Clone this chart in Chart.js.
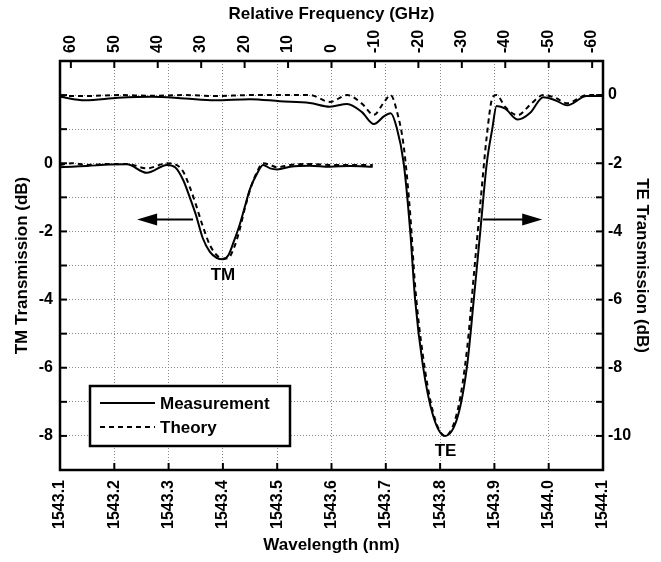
<!DOCTYPE html>
<html>
<head>
<meta charset="utf-8">
<script src="https://cdn.jsdelivr.net/npm/chart.js@4.4.0/dist/chart.umd.min.js"></script>
<style>
  html, body { margin: 0; padding: 0; background: #fff; }
</style>
</head>
<body>
<canvas id="chartTrans" width="661" height="562"></canvas>
<script>
// tick labels
var wavelengthTicks = [1543.1, 1543.2, 1543.3, 1543.4, 1543.5, 1543.6, 1543.7, 1543.8, 1543.9, 1544.0, 1544.1];
var freqTicks = [60, 50, 40, 30, 20, 10, 0, -10, -20, -30, -40, -50, -60];
var tmTickLabels = [0, -2, -4, -6, -8];
var teTickLabels = [0, -2, -4, -6, -8, -10];

// TE polarisation (right axis)
var teLambda = [1543.100, 1543.146, 1543.207, 1543.269, 1543.330, 1543.385, 1543.450, 1543.505, 1543.560, 1543.597,
                1543.629, 1543.656, 1543.678, 1543.697, 1543.709, 1543.720, 1543.733, 1543.745, 1543.754, 1543.768,
                1543.787, 1543.809, 1543.833, 1543.850, 1543.862, 1543.874, 1543.886, 1543.896,
                1543.904, 1543.920, 1543.943, 1543.966, 1543.990, 1544.012, 1544.034, 1544.070, 1544.100];
var teMeasured = [-0.05, -0.15, -0.08, -0.05, -0.1, -0.15, -0.12, -0.18, -0.23, -0.34,
                  -0.26, -0.5, -0.85, -0.62, -0.53, -0.95, -2.0, -4.0, -6.0, -7.9,
                  -9.4, -10.0, -9.4, -7.9, -6.0, -4.0, -2.0, -1.0,
                  -0.32, -0.4, -0.72, -0.52, -0.06, -0.15, -0.3, -0.03, -0.03];
var teTheory = [-0.02, -0.03, 0, -0.02, 0, -0.03, 0, 0, 0, -0.2,
                0, -0.25, -0.58, -0.2, 0, -0.45, -1.5, -3.5, -5.6, -7.6,
                -9.3, -10.0, -9.2, -7.4, -5.3, -3.2, -1.2, -0.1,
                0, -0.35, -0.59, -0.28, 0, -0.08, -0.24, 0, 0];

// TM polarisation (left axis)
var tmLambda = [1543.100, 1543.122, 1543.150, 1543.192, 1543.223, 1543.260, 1543.297, 1543.312, 1543.327, 1543.339,
                1543.350, 1543.363, 1543.376, 1543.389, 1543.400, 1543.410, 1543.420, 1543.430, 1543.440, 1543.450,
                1543.463, 1543.474, 1543.487, 1543.500, 1543.524, 1543.560, 1543.597, 1543.634, 1543.676];
var tmMeasured = [-0.12, -0.1, -0.08, -0.04, -0.03, -0.28, -0.05, -0.12, -0.5, -1.0,
                  -1.5, -2.2, -2.6, -2.78, -2.82, -2.7, -2.3, -1.85, -1.3, -0.75,
                  -0.3, -0.05, -0.15, -0.18, -0.1, -0.07, -0.1, -0.08, -0.1];
var tmTheory = [-0.05, 0, -0.05, -0.02, -0.02, -0.15, 0, -0.03, -0.25, -0.7,
                -1.2, -1.85, -2.4, -2.7, -2.8, -2.78, -2.5, -2.0, -1.35, -0.78,
                -0.25, 0, -0.05, -0.12, -0.05, -0.02, -0.05, -0.05, -0.05];

function pts(xs, ys) {
  return xs.map(function (x, i) { return { x: x, y: ys[i] }; });
}
function intRange(a, b) {
  var r = [];
  for (var v = a; v <= b; v++) r.push(v);
  return r;
}

Chart.defaults.font.family = "'Liberation Sans', Arial, sans-serif";
Chart.defaults.font.weight = 'bold';
Chart.defaults.font.size = 16;
Chart.defaults.color = '#000';

var gridStyle = { color: '#8a8a8a', lineWidth: 1, drawTicks: false };
var titleFont = { size: 17, weight: 'bold' };

// arrows, labels, legend, frame and inward ticks
var decorations = {
  id: 'decorations',
  afterDraw: function (chart) {
    var ctx = chart.ctx, a = chart.chartArea, s = chart.scales;
    ctx.save();
    ctx.strokeStyle = '#000';
    ctx.fillStyle = '#000';
    ctx.lineWidth = 2;
    ctx.setLineDash([]);

    function seg(x1, y1, x2, y2) {
      ctx.beginPath(); ctx.moveTo(x1, y1); ctx.lineTo(x2, y2); ctx.stroke();
    }
    function arrow(x1, y, x2) {
      var dir = x2 > x1 ? 1 : -1;
      seg(x1, y, x2 - dir * 16, y);
      ctx.beginPath();
      ctx.moveTo(x2, y);
      ctx.lineTo(x2 - dir * 20, y - 6);
      ctx.lineTo(x2 - dir * 20, y + 6);
      ctx.closePath();
      ctx.fill();
    }

    // inward ticks
    var tl = 7;
    s.x.ticks.forEach(function (t) { var p = s.x.getPixelForValue(t.value); seg(p, a.bottom, p, a.bottom - tl); });
    s.xTop.ticks.forEach(function (t) { var p = s.xTop.getPixelForValue(t.value); seg(p, a.top, p, a.top + tl); });
    s.yL.ticks.forEach(function (t) { var p = s.yL.getPixelForValue(t.value); seg(a.left, p, a.left + tl, p); });
    s.yR.ticks.forEach(function (t) { var p = s.yR.getPixelForValue(t.value); seg(a.right, p, a.right - tl, p); });

    // frame
    ctx.lineWidth = 2.5;
    ctx.strokeRect(a.left, a.top, a.right - a.left, a.bottom - a.top);

    // arrows
    ctx.lineWidth = 2;
    var yTm = s.yL.getPixelForValue(-1.65);
    arrow(s.x.getPixelForValue(1543.345), yTm, s.x.getPixelForValue(1543.242));
    var yTe = s.yR.getPixelForValue(-3.65);
    arrow(s.x.getPixelForValue(1543.879), yTe, s.x.getPixelForValue(1543.988));

    // curve labels
    ctx.font = "bold 17px 'Liberation Sans', Arial, sans-serif";
    ctx.textAlign = 'center';
    ctx.textBaseline = 'middle';
    ctx.fillText('TM', s.x.getPixelForValue(1543.4), s.yL.getPixelForValue(-3.3));
    ctx.fillText('TE', s.x.getPixelForValue(1543.81), s.yR.getPixelForValue(-10.45));

    // legend
    var lx = a.left + 30, ly = a.top + 325, lw = 200, lh = 60;
    ctx.fillStyle = '#fff';
    ctx.fillRect(lx, ly, lw, lh);
    ctx.fillStyle = '#000';
    ctx.lineWidth = 2.5;
    ctx.strokeRect(lx, ly, lw, lh);
    ctx.lineWidth = 2;
    seg(lx + 10, ly + 17, lx + 65, ly + 17);
    ctx.setLineDash([5, 4]);
    seg(lx + 10, ly + 41, lx + 65, ly + 41);
    ctx.setLineDash([]);
    ctx.textAlign = 'left';
    ctx.fillText('Measurement', lx + 70, ly + 18);
    ctx.fillText('Theory', lx + 70, ly + 42);
    ctx.restore();
  }
};

var ctx = document.getElementById('chartTrans');
var chartTrans = new Chart(ctx, {
  type: 'line',
  data: {
    datasets: [
      {
        label: 'TM Measurement',
        data: pts(tmLambda, tmMeasured),
        yAxisID: 'yL',
        borderColor: '#000',
        borderWidth: 2,
        pointRadius: 0,
        cubicInterpolationMode: 'monotone',
        fill: false
      },
      {
        label: 'TM Theory',
        data: pts(tmLambda, tmTheory),
        yAxisID: 'yL',
        borderColor: '#000',
        borderWidth: 2,
        borderDash: [5, 4],
        pointRadius: 0,
        cubicInterpolationMode: 'monotone',
        fill: false
      },
      {
        label: 'TE Measurement',
        data: pts(teLambda, teMeasured),
        yAxisID: 'yR',
        borderColor: '#000',
        borderWidth: 2,
        pointRadius: 0,
        cubicInterpolationMode: 'monotone',
        fill: false
      },
      {
        label: 'TE Theory',
        data: pts(teLambda, teTheory),
        yAxisID: 'yR',
        borderColor: '#000',
        borderWidth: 2,
        borderDash: [5, 4],
        pointRadius: 0,
        cubicInterpolationMode: 'monotone',
        fill: false
      }
    ]
  },
  options: {
    responsive: false,
    animation: false,
    devicePixelRatio: 1,
    layout: { padding: 0 },
    plugins: {
      legend: { display: false },
      tooltip: { enabled: false }
    },
    scales: {
      x: {
        type: 'linear',
        position: 'bottom',
        min: 1543.1,
        max: 1544.1,
        afterBuildTicks: function (sc) { sc.ticks = wavelengthTicks.map(function (v) { return { value: v }; }); },
        afterFit: function (sc) { sc.height = 92; },
        ticks: {
          autoSkip: false, minRotation: 90, maxRotation: 90, padding: 10,
          callback: function (v) { return v.toFixed(1); }
        },
        grid: gridStyle,
        border: { display: false, dash: [1, 2] },
        title: { display: true, text: 'Wavelength (nm)', font: titleFont, padding: { bottom: 6 } }
      },
      xTop: {
        type: 'linear',
        position: 'top',
        reverse: true,
        min: -62.5,
        max: 62.5,
        afterBuildTicks: function (sc) { sc.ticks = freqTicks.map(function (v) { return { value: v }; }); },
        afterFit: function (sc) { sc.height = 61; },
        ticks: { autoSkip: false, minRotation: 90, maxRotation: 90, padding: 8, labelOffset: 19 },
        grid: { display: false, drawTicks: false },
        border: { display: false },
        title: { display: true, text: 'Relative Frequency (GHz)', font: titleFont, padding: { top: 4 } }
      },
      yL: {
        type: 'linear',
        position: 'left',
        min: -9,
        max: 3,
        afterBuildTicks: function (sc) { sc.ticks = intRange(-9, 3).map(function (v) { return { value: v }; }); },
        afterFit: function (sc) { sc.width = 60; },
        ticks: {
          autoSkip: false, padding: 7,
          callback: function (v) { return tmTickLabels.indexOf(v) >= 0 ? String(v) : ''; }
        },
        grid: gridStyle,
        border: { display: false, dash: [1, 2] },
        title: { display: true, text: 'TM Transmission (dB)', font: titleFont, padding: { top: 12 } }
      },
      yR: {
        type: 'linear',
        position: 'right',
        min: -11,
        max: 1,
        afterBuildTicks: function (sc) { sc.ticks = intRange(-11, 1).map(function (v) { return { value: v }; }); },
        afterFit: function (sc) { sc.width = 58; },
        ticks: {
          autoSkip: false, padding: 5,
          callback: function (v) { return teTickLabels.indexOf(v) >= 0 ? String(v) : ''; }
        },
        grid: { display: false, drawTicks: false },
        border: { display: false },
        title: { display: true, text: 'TE Transmission (dB)', font: titleFont, padding: { top: 9 } }
      }
    }
  },
  plugins: [decorations]
});
</script>
</body>
</html>
